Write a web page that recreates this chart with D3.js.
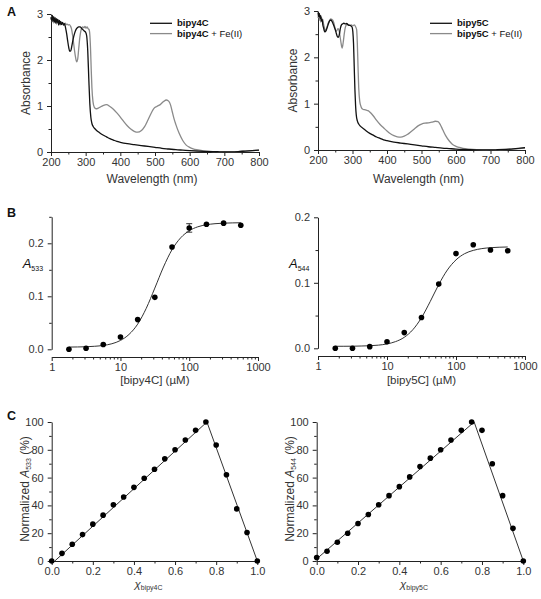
<!DOCTYPE html>
<html><head><meta charset="utf-8">
<script src="https://cdn.jsdelivr.net/npm/d3@7/dist/d3.min.js"></script>
<style>
body{margin:0;background:#fff;}
svg{display:block;font-family:"Liberation Sans",Arial,Helvetica,sans-serif;}
</style></head><body>
<svg id="chart" width="541" height="599"></svg>
<script>
// ---------- DATA ----------
// Panel A: UV-vis spectra [wavelength nm, absorbance]
const bipy4C = [[200,2.93],[202,2.86],[204,2.97],[206,2.84],[208,2.94],[210,2.83],[212,2.92],[214,2.80],[216,2.90],[218,2.82],[220,2.88],[222,2.76],[224,2.86],[226,2.78],[228,2.84],[230,2.77],[233,2.82],[236,2.76],[239,2.79],[242,2.7],[245,2.58],[248,2.42],[251,2.28],[254,2.19],[257,2.2],[260,2.3],[264,2.46],[268,2.58],[272,2.66],[276,2.7],[280,2.72],[284,2.72],[288,2.69],[292,2.66],[296,2.63],[300,2.6],[303,2.52],[306,2.2],[309,1.6],[312,1.05],[315,0.75],[318,0.62],[322,0.55],[326,0.51],[330,0.48],[340,0.42],[350,0.37],[360,0.33],[370,0.29],[380,0.26],[390,0.23],[400,0.21],[420,0.18],[440,0.16],[460,0.14],[480,0.12],[500,0.1],[520,0.08],[540,0.065],[560,0.05],[580,0.04],[600,0.03],[620,0.022],[640,0.015],[660,0.01],[680,0.005],[700,0.0],[720,0.003],[740,0.01],[760,0.02],[780,0.03],[800,0.04]];
const bipy4CFe = [[200,2.88],[202,2.95],[204,2.83],[206,2.92],[208,2.8],[210,2.9],[212,2.81],[214,2.88],[216,2.78],[218,2.86],[220,2.8],[223,2.85],[226,2.76],[229,2.82],[232,2.78],[235,2.8],[238,2.76],[241,2.8],[244,2.77],[247,2.78],[250,2.76],[253,2.77],[256,2.74],[259,2.68],[262,2.55],[265,2.38],[268,2.2],[271,2.05],[274,1.96],[277,2.02],[280,2.25],[283,2.48],[286,2.63],[289,2.7],[292,2.72],[295,2.7],[298,2.73],[301,2.69],[304,2.72],[307,2.68],[310,2.66],[312,2.55],[314,2.25],[316,1.8],[318,1.4],[321,1.1],[325,0.97],[330,0.94],[335,0.95],[340,0.97],[350,1.01],[360,1.03],[370,0.99],[380,0.93],[390,0.85],[400,0.76],[410,0.66],[420,0.57],[430,0.5],[440,0.45],[450,0.43],[460,0.46],[470,0.55],[480,0.7],[490,0.86],[497,0.95],[505,0.99],[515,1.03],[525,1.1],[533,1.13],[540,1.1],[545,1.02],[550,0.87],[555,0.72],[560,0.6],[570,0.4],[580,0.25],[590,0.15],[600,0.1],[610,0.07],[620,0.05],[640,0.025],[660,0.012],[680,0.005],[700,0.0],[720,0.003],[740,0.01],[760,0.02],[780,0.03],[800,0.04]];
const bipy5C = [[200,2.97],[202,2.88],[204,2.95],[206,2.84],[208,2.9],[210,2.78],[212,2.82],[214,2.7],[216,2.64],[218,2.58],[220,2.55],[223,2.57],[226,2.63],[229,2.7],[232,2.76],[235,2.8],[238,2.8],[241,2.77],[244,2.72],[247,2.66],[250,2.6],[253,2.52],[256,2.45],[259,2.43],[262,2.5],[265,2.63],[268,2.7],[271,2.72],[275,2.74],[279,2.72],[283,2.73],[287,2.7],[291,2.69],[295,2.68],[299,2.65],[301,2.55],[303,2.3],[305,1.8],[307,1.3],[309,0.95],[311,0.75],[314,0.63],[318,0.56],[322,0.52],[330,0.47],[340,0.41],[350,0.36],[360,0.32],[370,0.28],[380,0.25],[390,0.22],[400,0.2],[420,0.17],[440,0.15],[460,0.13],[480,0.11],[500,0.09],[520,0.07],[540,0.055],[560,0.04],[580,0.03],[600,0.02],[620,0.013],[640,0.008],[660,0.004],[680,0.002],[700,0.0],[720,0.005],[740,0.012],[760,0.02],[780,0.035],[800,0.05]];
const bipy5CFe = [[200,2.85],[202,2.92],[204,2.8],[206,2.9],[208,2.76],[210,2.86],[212,2.8],[214,2.82],[216,2.72],[218,2.66],[220,2.6],[222,2.58],[225,2.62],[228,2.7],[231,2.76],[234,2.8],[237,2.83],[240,2.82],[243,2.8],[246,2.74],[249,2.64],[252,2.56],[255,2.58],[258,2.62],[261,2.58],[264,2.45],[267,2.3],[270,2.2],[273,2.32],[276,2.5],[279,2.64],[282,2.7],[285,2.72],[289,2.7],[293,2.69],[297,2.7],[301,2.68],[305,2.7],[309,2.66],[312,2.6],[314,2.3],[316,1.8],[318,1.35],[321,1.05],[325,0.93],[330,0.88],[335,0.87],[340,0.86],[345,0.85],[350,0.82],[360,0.74],[370,0.64],[380,0.55],[390,0.48],[400,0.41],[410,0.35],[420,0.31],[430,0.285],[440,0.28],[450,0.3],[460,0.34],[470,0.4],[480,0.46],[490,0.52],[500,0.56],[510,0.58],[520,0.585],[530,0.6],[540,0.62],[548,0.61],[555,0.54],[562,0.43],[570,0.31],[580,0.2],[590,0.12],[600,0.08],[610,0.055],[620,0.035],[640,0.018],[660,0.008],[680,0.003],[700,0.0],[720,0.003],[740,0.01],[760,0.02],[780,0.03],[800,0.04]];
const wlTicks = [200,300,400,500,600,700,800];
const wlMinor = [250,350,450,550,650,750];
const absTicks = [0,1,2,3];
const absMinor = [0.5,1.5,2.5];

// Panel B: titrations
const concB = [1.78,3.16,5.62,10,17.8,31.6,56.2,100,178,316,562];
const a533 = [0.0,0.002,0.009,0.023,0.056,0.098,0.193,0.229,0.236,0.238,0.234];
const a533Err = [0,0,0,0,0,0,0,0.008,0,0,0];
const a544 = [0.0,0.0,0.0025,0.010,0.024,0.047,0.098,0.1445,0.158,0.150,0.149];
const fitConc = [1.78,2.37,3.16,4.22,5.62,7.5,10,13.3,17.8,23.7,31.6,42.2,56.2,75,100,133,178,237,316,422,562];
const fit533 = [0.0042,0.0044,0.0048,0.0057,0.0073,0.0105,0.0167,0.028,0.0475,0.0773,0.1155,0.1552,0.188,0.2103,0.2237,0.2311,0.235,0.237,0.238,0.2385,0.2388];
const fit544 = [0.0031,0.0031,0.0032,0.0035,0.0039,0.0048,0.0067,0.0102,0.0168,0.0284,0.0467,0.0712,0.0973,0.1196,0.135,0.1444,0.1495,0.1522,0.1536,0.1543,0.1547];
const concTicks = [1,10,100,1000];
const concMinor = [2,3,4,5,6,7,8,9,20,30,40,50,60,70,80,90,200,300,400,500,600,700,800,900];
const bTicks = [0.0,0.1,0.2];
const b533Minor = [0.05,0.15,0.25];
const b544Minor = [0.05,0.15];

// Panel C: Job plots
const chi = [0,0.05,0.1,0.15,0.2,0.25,0.3,0.35,0.4,0.45,0.5,0.55,0.6,0.65,0.7,0.75,0.8,0.85,0.9,0.95,1.0];
const norm533 = [0,5.5,12,19,26.5,33,40.5,46,53,59.5,66,73.5,80,87,94,100,83.5,62,37.5,20.5,0];
const norm544 = [2.5,7,13.5,20,27,33.5,40.5,47,53.5,60.5,68,74,80,87,94,100,94,70,47,23.5,0];
const job533LineX = [0.015,0.755,1.0];
const job533LineY = [0,100,0];
const job544LineX = [0.0,0.762,1.0];
const job544LineY = [1.5,100,0];
const chiTicks = [0,0.2,0.4,0.6,0.8,1.0];
const chiMinor = [0.1,0.3,0.5,0.7,0.9];
const normTicks = [0,20,40,60,80,100];
const normMinor = [10,30,50,70,90];

// ---------- DRAWING ----------
const svg = d3.select("#chart");
const INK = "#222", TXT = "#333";

function drawAxis(scale, orient, major, minor, fmt, tx, ty) {
  const gen = orient === "bottom" ? d3.axisBottom : d3.axisLeft;
  const gMin = svg.append("g").attr("transform", `translate(${tx},${ty})`)
    .call(gen(scale).tickValues(minor).tickSize(2.5).tickFormat(""));
  gMin.select(".domain").remove();
  gMin.selectAll("line").attr("stroke", INK);
  const gMaj = svg.append("g").attr("transform", `translate(${tx},${ty})`)
    .call(gen(scale).tickValues(major).tickSize(4).tickSizeOuter(0).tickPadding(orient === "bottom" ? 2 : 4).tickFormat(fmt));
  gMaj.select(".domain").attr("stroke", INK);
  gMaj.selectAll("line").attr("stroke", INK);
  gMaj.selectAll("text").attr("font-size", 11).attr("fill", TXT).attr("font-family", '"Liberation Sans",Arial,sans-serif');
}

function label(x, y, txt, opts = {}) {
  const t = svg.append("text").attr("x", x).attr("y", y)
    .attr("font-size", opts.size || 12).attr("fill", opts.fill || TXT)
    .attr("text-anchor", opts.anchor || "middle");
  if (opts.weight) t.attr("font-weight", opts.weight);
  if (opts.rotate) t.attr("transform", `rotate(-90,${x},${y})`);
  t.text(txt);
  return t;
}

// ===== Panel A =====
function spectrum(xr, yr, black, gray, name, legX) {
  const x = d3.scaleLinear().domain([200, 800]).range(xr);
  const y = d3.scaleLinear().domain([0, 3]).range(yr);
  drawAxis(x, "bottom", wlTicks, wlMinor, d3.format("d"), 0, yr[0]);
  drawAxis(y, "left", absTicks, absMinor, d3.format("d"), xr[0], 0);
  const ln = d3.line().x(d => x(d[0])).y(d => y(d[1])).curve(d3.curveMonotoneX);
  svg.append("path").datum(gray).attr("d", ln).attr("fill", "none").attr("stroke", "#8a8a8a").attr("stroke-width", 1.3);
  svg.append("path").datum(black).attr("d", ln).attr("fill", "none").attr("stroke", "#111").attr("stroke-width", 1.3);
  // legend
  svg.append("line").attr("x1", legX).attr("x2", legX + 22).attr("y1", 23.3).attr("y2", 23.3).attr("stroke", "#111").attr("stroke-width", 1.3);
  svg.append("line").attr("x1", legX).attr("x2", legX + 22).attr("y1", 33.6).attr("y2", 33.6).attr("stroke", "#8a8a8a").attr("stroke-width", 1.3);
  svg.append("text").attr("x", legX + 27).attr("y", 26.3).attr("font-size", 9.5).attr("font-weight", "bold").attr("fill", "#111").text(name);
  const t2 = svg.append("text").attr("x", legX + 27).attr("y", 37.3).attr("font-size", 9.5).attr("fill", "#111");
  t2.append("tspan").attr("font-weight", "bold").text(name);
  t2.append("tspan").text(" + Fe(II)");
  label((xr[0] + xr[1]) / 2 - 3, 183, "Wavelength (nm)", { size: 12 });
  label(xr[0] - 21, (yr[0] + yr[1]) / 2, "Absorbance", { size: 12, rotate: true });
}
spectrum([51, 259], [152, 14], bipy4C, bipy4CFe, "bipy4C", 150);
spectrum([318, 525], [150, 11], bipy5C, bipy5CFe, "bipy5C", 430);
label(7, 16, "A", { size: 12.5, weight: "bold", anchor: "start", fill: "#111" });

// ===== Panel B =====
function titration(xr, y0, ytop, ymax, minor, axisY, vals, err, fit, sub, xname) {
  const x = d3.scaleLog().domain([1, 1000]).range(xr);
  const y = d3.scaleLinear().domain([0, ymax]).range([y0, ytop]);
  drawAxis(x, "bottom", concTicks, concMinor, d3.format("d"), 0, axisY);
  drawAxis(y, "left", bTicks, minor, d3.format(".1f"), xr[0], 0);
  const ln = d3.line().x((d, i) => x(fitConc[i])).y(d => y(d)).curve(d3.curveMonotoneX);
  svg.append("path").datum(fit).attr("d", ln).attr("fill", "none").attr("stroke", "#333").attr("stroke-width", 1);
  if (err) {
    concB.forEach((c, i) => {
      if (err[i] > 0) {
        const cx = x(c), ya = y(vals[i] + err[i]), yb = y(vals[i] - err[i]);
        svg.append("line").attr("x1", cx).attr("x2", cx).attr("y1", ya).attr("y2", yb).attr("stroke", "#333");
        svg.append("line").attr("x1", cx - 3).attr("x2", cx + 3).attr("y1", ya).attr("y2", ya).attr("stroke", "#333");
        svg.append("line").attr("x1", cx - 3).attr("x2", cx + 3).attr("y1", yb).attr("y2", yb).attr("stroke", "#333");
      }
    });
  }
  svg.append("g").selectAll("circle").data(vals).join("circle")
    .attr("cx", (d, i) => x(concB[i])).attr("cy", d => y(d)).attr("r", 2.8).attr("fill", "#000");
  const lt = svg.append("text").attr("x", xr[0] - 29).attr("y", 268).attr("fill", "#111");
  lt.append("tspan").attr("font-style", "italic").attr("font-size", 13).text("A");
  lt.append("tspan").attr("font-size", 7).attr("dy", 2.5).text(sub);
  label((xr[0] + xr[1]) / 2, 384, xname, { size: 11.5 });
}
titration([51.7, 258], 349.3, 216.8, 0.25, b533Minor, 357, a533, a533Err, fit533, "533", "[bipy4C] (\u00b5M)");
titration([318, 525], 348.3, 217.3, 0.2, b544Minor, 356, a544, null, fit544, "544", "[bipy5C] (\u00b5M)");
label(7, 217, "B", { size: 12.5, weight: "bold", anchor: "start", fill: "#111" });

// ===== Panel C =====
function job(xr, vals, lx, ly, sub) {
  const x = d3.scaleLinear().domain([0, 1]).range(xr);
  const y = d3.scaleLinear().domain([0, 100]).range([561, 422]);
  drawAxis(x, "bottom", chiTicks, chiMinor, d3.format(".1f"), 0, 561);
  drawAxis(y, "left", normTicks, normMinor, d3.format("d"), xr[0], 0);
  const pts = lx.map((v, i) => [v, ly[i]]);
  svg.append("path").datum(pts).attr("d", d3.line().x(d => x(d[0])).y(d => y(d[1])))
    .attr("fill", "none").attr("stroke", "#333").attr("stroke-width", 1);
  svg.append("g").selectAll("circle").data(vals).join("circle")
    .attr("cx", (d, i) => x(chi[i])).attr("cy", d => y(d)).attr("r", 2.8).attr("fill", "#000");
  // y label
  const yx = xr[0] - 23, yy = 489;
  const t = svg.append("text").attr("x", yx).attr("y", yy).attr("font-size", 12).attr("fill", TXT)
    .attr("text-anchor", "middle").attr("transform", `rotate(-90,${yx},${yy})`);
  t.append("tspan").text("Normalized ");
  t.append("tspan").attr("font-style", "italic").text("A");
  t.append("tspan").attr("font-size", 7).attr("dy", 2.5).text(sub);
  t.append("tspan").attr("dy", -2.5).text(" (%)");
  // x label
  const xt = svg.append("text").attr("x", (xr[0] + xr[1]) / 2 - 6).attr("y", 588).attr("fill", TXT).attr("text-anchor", "middle");
  xt.append("tspan").attr("font-size", 11.5).attr("font-style", "italic").text("\u03c7");
  xt.append("tspan").attr("font-size", 7).attr("dy", 2).text(sub === "533" ? "bipy4C" : "bipy5C");
}
job([51.7, 257.3], norm533, job533LineX, job533LineY, "533");
job([316.7, 523.3], norm544, job544LineX, job544LineY, "544");
label(7, 420, "C", { size: 12.5, weight: "bold", anchor: "start", fill: "#111" });
</script>
</body></html>
